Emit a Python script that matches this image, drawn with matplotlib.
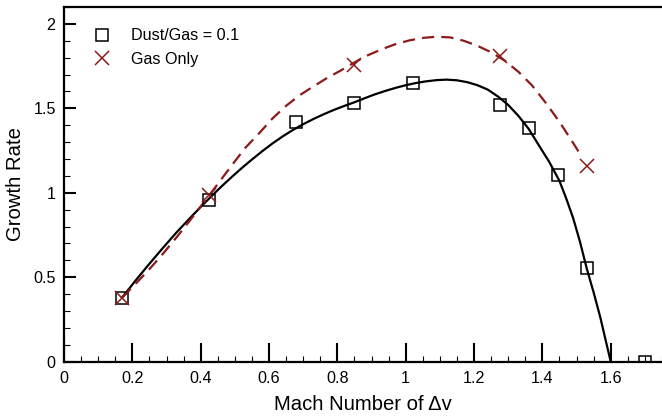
import matplotlib
matplotlib.use("Agg")
import matplotlib.pyplot as plt
from matplotlib.lines import Line2D

plt.rcParams['font.family'] = ['Liberation Sans', 'DejaVu Sans']

# Simulation points
mach_dust = [0.17, 0.425, 0.68, 0.85, 1.02, 1.275, 1.36, 1.445, 1.53, 1.70]
rate_dust = [0.38, 0.957, 1.42, 1.53, 1.65, 1.52, 1.385, 1.105, 0.553, 0.0]
mach_gas = [0.17, 0.425, 0.85, 1.275, 1.53]
rate_gas = [0.38, 0.985, 1.757, 1.81, 1.157]

# Fit curves
fit_dust_x = [0.17, 0.21, 0.25, 0.29, 0.33, 0.37, 0.40, 0.43, 0.46, 0.49, 0.52,
              0.55, 0.58, 0.61, 0.64, 0.67, 0.70, 0.73, 0.76, 0.79, 0.82, 0.85,
              0.88, 0.91, 0.94, 0.97, 1.00, 1.03, 1.06, 1.09, 1.12, 1.15, 1.18,
              1.21, 1.24, 1.27, 1.30, 1.33, 1.36, 1.39, 1.42, 1.45, 1.47, 1.49,
              1.51, 1.53, 1.55, 1.57, 1.585, 1.60]
fit_dust_y = [0.380, 0.482, 0.580, 0.675, 0.767, 0.853, 0.916, 0.977, 1.036, 1.092, 1.146,
              1.197, 1.246, 1.292, 1.334, 1.372, 1.406, 1.437, 1.465, 1.491, 1.514, 1.536,
              1.560, 1.583, 1.603, 1.621, 1.637, 1.650, 1.660, 1.667, 1.670, 1.666, 1.655,
              1.637, 1.611, 1.570, 1.520, 1.455, 1.378, 1.280, 1.183, 1.070, 0.965, 0.850,
              0.710, 0.550, 0.410, 0.258, 0.128, 0.0]
fit_gas_x = [0.17, 0.21, 0.25, 0.29, 0.33, 0.37, 0.41, 0.45, 0.49, 0.53, 0.57, 0.61,
             0.65, 0.69, 0.73, 0.77, 0.81, 0.85, 0.89, 0.93, 0.97, 1.01, 1.05, 1.09,
             1.13, 1.17, 1.21, 1.25, 1.29, 1.33, 1.37, 1.41, 1.45, 1.49, 1.515]
fit_gas_y = [0.380, 0.462, 0.548, 0.640, 0.738, 0.840, 0.945, 1.052, 1.160, 1.265, 1.350, 1.440,
             1.515, 1.578, 1.630, 1.680, 1.724, 1.772, 1.815, 1.850, 1.880, 1.902, 1.917, 1.924,
             1.920, 1.900, 1.870, 1.832, 1.782, 1.716, 1.635, 1.532, 1.420, 1.295, 1.214]

xticks = [0, 0.2, 0.4, 0.6, 0.8, 1.0, 1.2, 1.4, 1.6]
xtick_labels = ["0", "0.2", "0.4", "0.6", "0.8", "1", "1.2", "1.4", "1.6"]
yticks = [0, 0.5, 1.0, 1.5, 2.0]
ytick_labels = ["0", "0.5", "1", "1.5", "2"]

RED = "#8b1a1a"

W, H = 662, 416
fig = plt.figure(figsize=(W / 100, H / 100), dpi=100)
left, right, top, bottom = 64, 662, 7, 361.7
ax = fig.add_axes([left / W, (H - bottom) / H, (right - left) / W, (bottom - top) / H])

ax.plot(fit_dust_x, fit_dust_y, color="black", lw=1.6, solid_joinstyle="round")
ax.plot(fit_gas_x, fit_gas_y, color=RED, lw=1.6, dashes=(5.5, 3.2))
ax.plot(mach_dust, rate_dust, ls="none", marker="s", ms=8.2, mfc="none",
        mec="black", mew=1.1)
ax.plot(mach_gas, rate_gas, ls="none", marker="x", ms=9.4, mec=RED, mew=1.1)

ax.set_xlim(0, (right - left) / 342.0)
ax.set_ylim(0, 2.1)

ax.set_xticks(xticks)
ax.set_xticklabels(xtick_labels)
ax.set_yticks(yticks)
ax.set_yticklabels(ytick_labels)
ax.set_xticks([i * 0.05 for i in range(0, 36)], minor=True)
ax.set_yticks([i * 0.1 for i in range(0, 22)], minor=True)

ax.tick_params(axis="both", which="both", direction="in", labelsize=11.6, colors="black")
ax.tick_params(axis="x", which="major", length=13.5, width=1.5, pad=7)
ax.tick_params(axis="y", which="major", length=8.6, width=1.5, pad=6)
ax.tick_params(axis="both", which="minor", length=4.3, width=0.8)

for s in ["left", "bottom", "top"]:
    ax.spines[s].set_linewidth(1.6)
ax.spines["right"].set_visible(False)

ax.set_xlabel("Mach Number of Δv", fontsize=14.6, labelpad=6)
ax.set_ylabel("Growth Rate", fontsize=14.6, labelpad=6)

handles = [
    Line2D([], [], ls="none", marker="s", ms=8.2, mfc="none", mec="black", mew=1.1),
    Line2D([], [], ls="none", marker="x", ms=9.4, mec=RED, mew=1.1),
]
ax.legend(handles, ["Dust/Gas = 0.1", "Gas Only"], loc="upper left",
          bbox_to_anchor=(93.7 / W, (H - 28.5) / H), bbox_transform=fig.transFigure,
          frameon=False, fontsize=11.6, handlelength=1.0, handletextpad=1.33,
          borderpad=0, borderaxespad=0, labelspacing=0.5)

fig.savefig("out.png", dpi=100)
